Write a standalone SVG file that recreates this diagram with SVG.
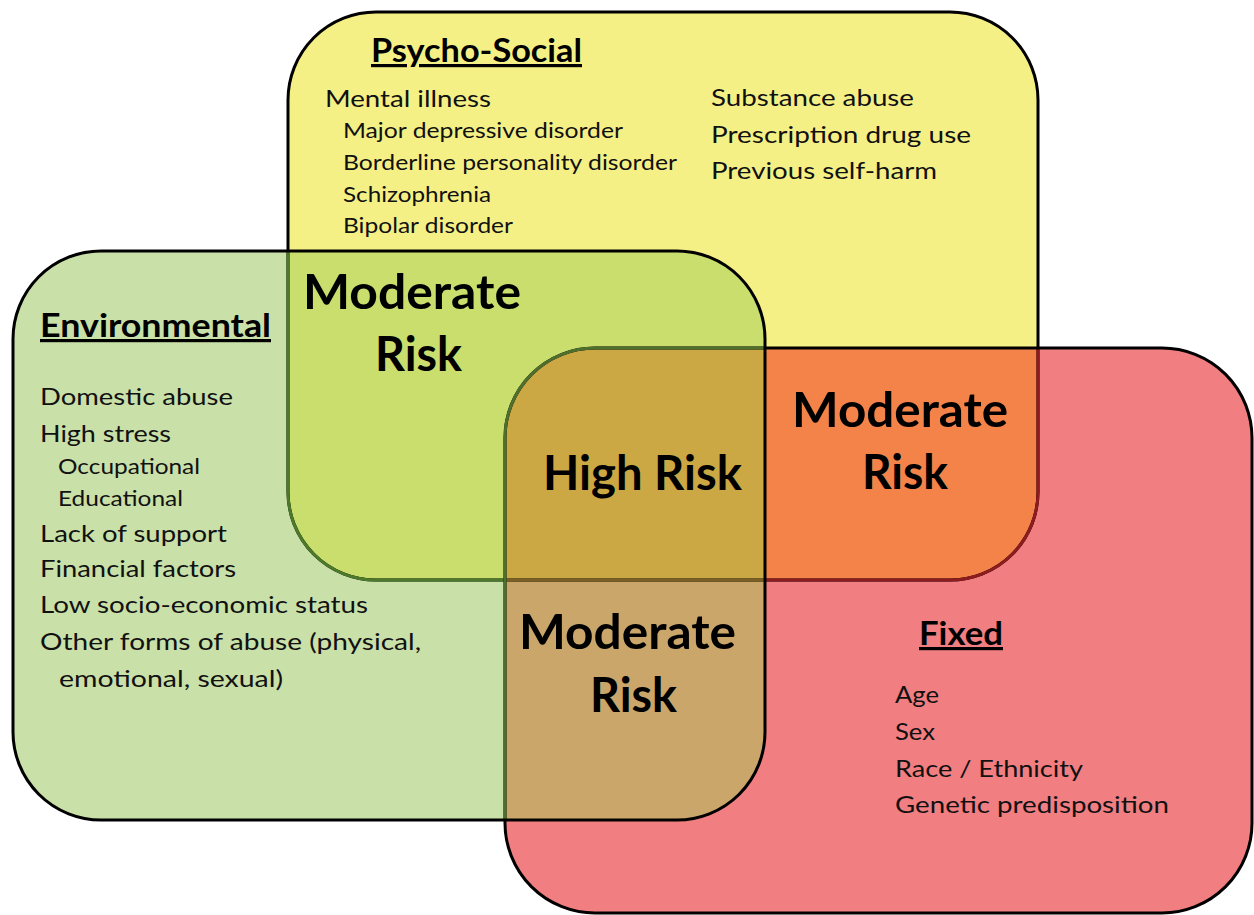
<svg xmlns="http://www.w3.org/2000/svg" width="1254" height="915" viewBox="0 0 1254 915">
<defs>
<rect id="rY" x="288" y="12" width="750" height="568" rx="88"/>
<rect id="rR" x="505" y="348" width="747" height="565" rx="90"/>
<rect id="rG" x="13" y="251" width="752" height="569" rx="88"/>
<clipPath id="cY"><use href="#rY"/></clipPath>
<clipPath id="cR"><use href="#rR"/></clipPath>
<clipPath id="cG"><use href="#rG"/></clipPath>
</defs>
<style>
.st{fill:none;stroke-width:3}
.t{font-family:Lato,"Liberation Sans",sans-serif;font-size:24px;fill:#111}
.s{font-family:Lato,"Liberation Sans",sans-serif;font-size:21px;fill:#111}
.h{font-family:Lato,"Liberation Sans",sans-serif;font-size:32px;font-weight:bold;fill:#000;text-decoration:underline}
.r{font-family:Lato,"Liberation Sans",sans-serif;font-size:47px;font-weight:bold;fill:#000}
</style>
<rect width="1254" height="915" fill="#fff"/>
<g id="sets">
<use href="#rY" fill="#F5F086"/>
<use href="#rR" fill="#F17E81"/>
<use href="#rG" fill="#C9E0A9"/>
<use href="#rR" fill="#F4834A" clip-path="url(#cY)"/>
<use href="#rG" fill="#C9DE6C" clip-path="url(#cY)"/>
<use href="#rG" fill="#CBA66B" clip-path="url(#cR)"/>
<g clip-path="url(#cY)"><use href="#rG" fill="#CBA844" clip-path="url(#cR)"/></g>
<use href="#rY" class="st" stroke="#000"/>
<use href="#rY" class="st" stroke="#8E1B1E" clip-path="url(#cR)"/>
<use href="#rY" class="st" stroke="#4D7A2A" clip-path="url(#cG)"/>
<g clip-path="url(#cR)"><use href="#rY" class="st" stroke="#7D5F26" clip-path="url(#cG)"/></g>
<use href="#rR" class="st" stroke="#000"/>
<use href="#rR" class="st" stroke="#4F6F2C" clip-path="url(#cG)"/>
<use href="#rG" class="st" stroke="#000"/>
</g>
<g id="psycho-social">
<text class="h" x="371" y="62" textLength="211" lengthAdjust="spacingAndGlyphs">Psycho-Social</text>
<text class="t" x="325" y="107" textLength="166" lengthAdjust="spacingAndGlyphs">Mental illness</text>
<text class="s" x="343" y="138" textLength="280" lengthAdjust="spacingAndGlyphs">Major depressive disorder</text>
<text class="s" x="343" y="170" textLength="334" lengthAdjust="spacingAndGlyphs">Borderline personality disorder</text>
<text class="s" x="343" y="202" textLength="148" lengthAdjust="spacingAndGlyphs">Schizophrenia</text>
<text class="s" x="343" y="233" textLength="170" lengthAdjust="spacingAndGlyphs">Bipolar disorder</text>
<text class="t" x="711" y="106" textLength="203" lengthAdjust="spacingAndGlyphs">Substance abuse</text>
<text class="t" x="711" y="143" textLength="260" lengthAdjust="spacingAndGlyphs">Prescription drug use</text>
<text class="t" x="711" y="179" textLength="226" lengthAdjust="spacingAndGlyphs">Previous self-harm</text>
</g>
<g id="environmental">
<text class="h" x="40" y="337" textLength="231" lengthAdjust="spacingAndGlyphs">Environmental</text>
<text class="t" x="40" y="405" textLength="193" lengthAdjust="spacingAndGlyphs">Domestic abuse</text>
<text class="t" x="40" y="442" textLength="131" lengthAdjust="spacingAndGlyphs">High stress</text>
<text class="s" x="58" y="474" textLength="142" lengthAdjust="spacingAndGlyphs">Occupational</text>
<text class="s" x="58" y="506" textLength="125" lengthAdjust="spacingAndGlyphs">Educational</text>
<text class="t" x="40" y="542" textLength="187" lengthAdjust="spacingAndGlyphs">Lack of support</text>
<text class="t" x="40" y="577" textLength="196" lengthAdjust="spacingAndGlyphs">Financial factors</text>
<text class="t" x="40" y="613" textLength="328" lengthAdjust="spacingAndGlyphs">Low socio-economic status</text>
<text class="t" x="40" y="650" textLength="381" lengthAdjust="spacingAndGlyphs">Other forms of abuse (physical,</text>
<text class="t" x="59" y="687" textLength="224" lengthAdjust="spacingAndGlyphs">emotional, sexual)</text>
</g>
<g id="fixed">
<text class="h" x="919" y="645" textLength="84" lengthAdjust="spacingAndGlyphs">Fixed</text>
<text class="t" x="895" y="703" textLength="44" lengthAdjust="spacingAndGlyphs">Age</text>
<text class="t" x="895" y="740" textLength="40" lengthAdjust="spacingAndGlyphs">Sex</text>
<text class="t" x="895" y="777" textLength="188" lengthAdjust="spacingAndGlyphs">Race / Ethnicity</text>
<text class="t" x="895" y="813" textLength="274" lengthAdjust="spacingAndGlyphs">Genetic predisposition</text>
</g>
<g id="risk-psycho-environmental">
<text class="r" x="303" y="309" textLength="218" lengthAdjust="spacingAndGlyphs">Moderate</text>
<text class="r" x="375" y="371" textLength="87" lengthAdjust="spacingAndGlyphs">Risk</text>
</g>
<g id="risk-all">
<text class="r" x="543" y="490" textLength="199" lengthAdjust="spacingAndGlyphs">High Risk</text>
</g>
<g id="risk-psycho-fixed">
<text class="r" x="792" y="427" textLength="216" lengthAdjust="spacingAndGlyphs">Moderate</text>
<text class="r" x="862" y="489" textLength="86" lengthAdjust="spacingAndGlyphs">Risk</text>
</g>
<g id="risk-environmental-fixed">
<text class="r" x="519" y="649" textLength="217" lengthAdjust="spacingAndGlyphs">Moderate</text>
<text class="r" x="590" y="712" textLength="87" lengthAdjust="spacingAndGlyphs">Risk</text>
</g>
</svg>
